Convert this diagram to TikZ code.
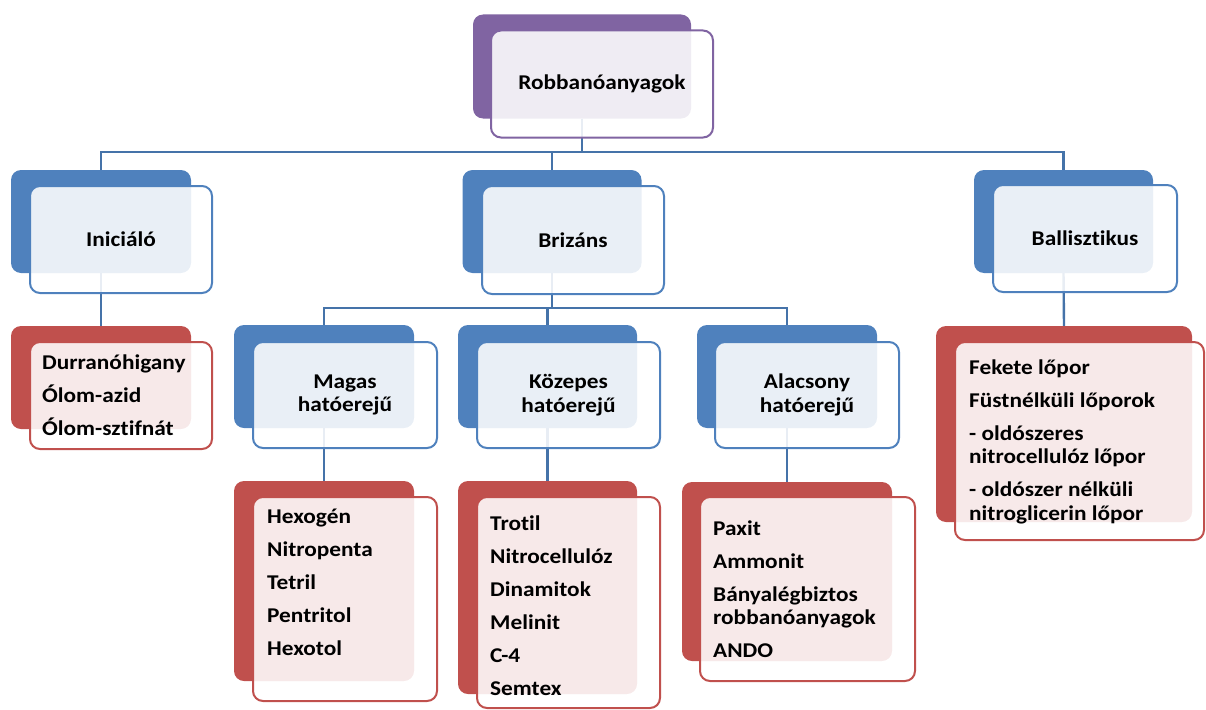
\documentclass[tikz,border=0pt]{standalone}
\usepackage{fontspec}
\newfontfamily\lblfont{Carlito}[FakeStretch=1.11, Ligatures=CommonOff]
\newcommand\lbl{\lblfont\bfseries\fontsize{21}{23.5}\selectfont}
\definecolor{purp}{HTML}{8064A2}
\definecolor{blu}{HTML}{4F81BD}
\definecolor{redd}{HTML}{C0504D}
\definecolor{connc}{HTML}{4573A9}
\tikzset{
  backbox/.style={rectangle, rounded corners=10pt, inner sep=0pt, draw=none},
  frontbox/.style={rectangle, rounded corners=10pt, inner sep=0pt, line width=2pt, fill=white, fill opacity=0.88, text opacity=1, font=\lbl, align=center},
  conn/.style={draw=connc, line width=2.4pt},
  listtxt/.style={anchor=west, align=left, inner sep=0pt, font=\lbl}
}
\begin{document}
\begin{tikzpicture}[x=1pt,y=-1pt]
\useasboundingbox (0,0) rectangle (1206,709);
% junctions
\coordinate (j1) at (582,152);
\coordinate (j2) at (552,308);
% ---------- back boxes ----------
\node[backbox, fill=purp, minimum width=218pt, minimum height=104pt] (rootB) at (582,66.5) {};
\node[backbox, fill=blu, minimum width=180pt, minimum height=103pt] (iniB) at (101,221.5) {};
\node[backbox, fill=blu, minimum width=179pt, minimum height=103pt] (brizB) at (552,221.5) {};
\node[backbox, fill=blu, minimum width=179pt, minimum height=103pt] (balB) at (1063.5,221.5) {};
\node[backbox, fill=blu, minimum width=180pt, minimum height=103pt] (magB) at (324,376.5) {};
\node[backbox, fill=blu, minimum width=179pt, minimum height=103pt] (kozB) at (547.5,376.5) {};
\node[backbox, fill=blu, minimum width=180pt, minimum height=103pt] (alaB) at (787,376.5) {};
\node[backbox, fill=redd, minimum width=180pt, minimum height=103pt] (durB) at (101,377.5) {};
\node[backbox, fill=redd, minimum width=180pt, minimum height=200pt] (hexB) at (324,581) {};
\node[backbox, fill=redd, minimum width=179pt, minimum height=213pt] (troB) at (547.5,587.5) {};
\node[backbox, fill=redd, minimum width=210pt, minimum height=179pt] (paxB) at (787,571.5) {};
\node[backbox, fill=redd, minimum width=256pt, minimum height=196pt] (lovB) at (1064,424) {};
% ---------- connectors ----------
\draw[conn] (rootB.south) -- (j1);
\draw[conn] (iniB.north) |- (j1) -| (balB.north);
\draw[conn] (j1) -| (brizB.north);
\draw[conn] (brizB.south) -- (j2);
\draw[conn] (magB.north) |- (j2) -| (alaB.north);
\draw[conn] (j2) -| (kozB.north);
\draw[conn] (iniB.south) -- (durB.north);
\draw[conn] (balB.south) -- (lovB.north);
\draw[conn] (magB.south) -- (hexB.north);
\draw[conn] (kozB.south) -- (troB.north);
\draw[conn] (alaB.south) -- (paxB.north);
% ---------- front boxes ----------
\node[frontbox, draw=purp, minimum width=222pt, minimum height=107pt] (root) at (602,84) {Robbanóanyagok};
\node[frontbox, draw=blu, minimum width=182pt, minimum height=107pt] (ini) at (121,239.5) {Iniciáló};
\node[frontbox, draw=blu, minimum width=182pt, minimum height=108pt] (briz) at (573,240) {Brizáns};
\node[frontbox, draw=blu, minimum width=184pt, minimum height=107pt] (bal) at (1085,238.5) {Ballisztikus};
\node[frontbox, draw=blu, minimum width=184pt, minimum height=106pt] (mag) at (345,395) {Magas\\hatóerejű};
\node[frontbox, draw=blu, minimum width=183pt, minimum height=106pt] (koz) at (568.5,395) {Közepes\\hatóerejű};
\node[frontbox, draw=blu, minimum width=184pt, minimum height=106pt] (ala) at (807,395) {Alacsony\\hatóerejű};
\node[frontbox, draw=redd, minimum width=182pt, minimum height=107pt] (dur) at (121,395.5) {};
\node[frontbox, draw=redd, minimum width=184pt, minimum height=204pt] (hex) at (345,599) {};
\node[frontbox, draw=redd, minimum width=183pt, minimum height=211pt] (tro) at (568.5,602.5) {};
\node[frontbox, draw=redd, minimum width=215pt, minimum height=184pt] (pax) at (807.5,589) {};
\node[frontbox, draw=redd, minimum width=249pt, minimum height=198pt] (lov) at (1079.5,441) {};
% ---------- list texts ----------
\node[listtxt] (durT) at (42,395) {Durranóhigany\\[9.5pt]Ólom-azid\\[9.5pt]Ólom-sztifnát};
\node[listtxt] (hexT) at (267,582) {Hexogén\\[9.5pt]Nitropenta\\[9.5pt]Tetril\\[9.5pt]Pentritol\\[9.5pt]Hexotol};
\node[listtxt] (troT) at (490,605.5) {Trotil\\[9.5pt]Nitrocellulóz\\[9.5pt]Dinamitok\\[9.5pt]Melinit\\[9.5pt]C-4\\[9.5pt]Semtex};
\node[listtxt] (paxT) at (713,589) {Paxit\\[9.5pt]Ammonit\\[9.5pt]Bányalégbiztos\\robbanóanyagok\\[9.5pt]ANDO};
\node[listtxt] (lovT) at (969,441.5) {Fekete lőpor\\[9.5pt]Füstnélküli lőporok\\[9.5pt]- oldószeres\\nitrocellulóz lőpor\\[9.5pt]- oldószer nélküli\\nitroglicerin lőpor};
\end{tikzpicture}
\end{document}
